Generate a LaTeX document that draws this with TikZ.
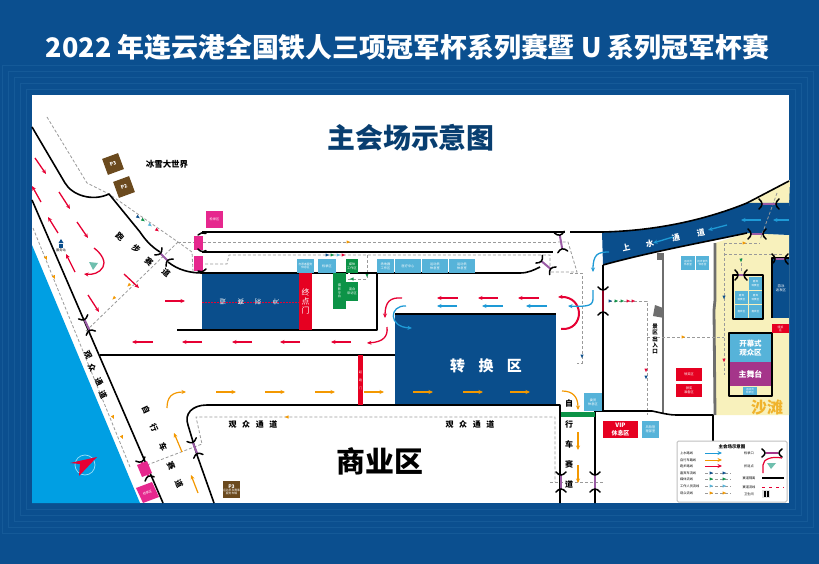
\documentclass[tikz,border=0pt]{standalone}
\usepackage{fontspec}
\setmainfont{Noto Sans CJK SC}
\usetikzlibrary{arrows.meta}
\definecolor{bgblue}{HTML}{0B4F8F}
\definecolor{bgline}{HTML}{155A98}
\definecolor{boxblue}{HTML}{0A4E8C}
\definecolor{water}{HTML}{009FE3}
\definecolor{cyanbox}{HTML}{56B3D9}
\definecolor{greenbox}{HTML}{0C9347}
\definecolor{redbox}{HTML}{E60021}
\definecolor{pinkbox}{HTML}{E6288E}
\definecolor{brownbox}{HTML}{6B4A1E}
\definecolor{sand}{HTML}{F8F1BC}
\definecolor{stage}{HTML}{A5358A}
\definecolor{gatepurple}{HTML}{9A5BA5}
\definecolor{flowred}{HTML}{E60033}
\definecolor{flowblue}{HTML}{1E9AD6}
\definecolor{flowor}{HTML}{F39800}
\definecolor{dashgrey}{HTML}{9A9A9A}
\definecolor{wallgrey}{HTML}{6E6E6E}
\definecolor{teal}{HTML}{6FBFAE}
\definecolor{sandtext}{HTML}{F0B32C}
\tikzset{
  road/.style={draw=black,line width=1.6bp,line join=round},
  redarrow/.style={draw=flowred,line width=1.3bp,-{Stealth[length=4.5bp,width=4bp]}},
  bluearrow/.style={draw=flowblue,line width=1.3bp,-{Stealth[length=4.5bp,width=4bp]}},
  orarrow/.style={draw=flowor,line width=1.2bp,-{Stealth[length=4.5bp,width=4bp]}},
  dashline/.style={draw=dashgrey,line width=.8bp,dash pattern=on 3bp off 2bp},
  gatearc/.style={draw=black,line width=1.5bp,line cap=round},
  cell/.style={inner sep=0pt,outer sep=0pt,align=center,text=white,font=\fontsize{3.2}{3.8}\selectfont},
  cyancell/.style={cell,fill=cyanbox},
  greencell/.style={cell,fill=greenbox},
  redcell/.style={cell,fill=redbox},
  pinkcell/.style={cell,fill=pinkbox},
  lbl/.style={inner sep=0pt,text=black,font=\fontsize{8}{9}\selectfont\bfseries},
  leglbl/.style={inner sep=0pt,text=black,font=\fontsize{3.2}{3.8}\selectfont},
}
\newcommand\boxat[7]{\node[#6,minimum width={(#4-#2)*1bp},minimum height={(#5-#3)*1bp}] (#1) at ({(#2+#4)/2},{(#3+#5)/2}) {#7};}
\newcommand\gatemark[5]{\begin{scope}[shift={(#1,#2)},rotate=#3]
  \draw[draw=#5,line width=2bp] (-#4,0)--(#4,0);
  \draw[gatearc] (-#4-3,-5) .. controls (-#4+1,-1.5) and (-#4+1,1.5) .. (-#4-3,5);
  \draw[gatearc] (#4+3,-5) .. controls (#4-1,-1.5) and (#4-1,1.5) .. (#4+3,5);
\end{scope}}
\newcommand\flowtick[4]{\fill[#4,shift={(#1,#2)},rotate=#3] (2.2,0)--(-1.5,-1.6)--(-1.5,1.6)--cycle;}
\begin{document}
\begin{tikzpicture}[x=1bp,y=-1bp]
\useasboundingbox (0,0) rectangle (819,564);
\fill[bgblue] (0,0) rectangle (819,564);
\foreach \i in {1,...,5}{
  \draw[bgline,line width=.5bp] ({32-6*\i},{95-6*\i}) rectangle ({789+6*\i},{503+6*\i});
}
\fill[white] (32,95) rectangle (789,503);

% water
\fill[water] (32,245)--(140,503)--(32,503)--cycle;

% sand
\fill[sand] (747,203)--(790,180)--(789,206)--cycle;
\fill[sand] (715,243)--(747,233)--(789,235)--(789,415)--(715,415)--cycle;

% upper water road
\fill[boxblue] (602,232) .. controls (650,231) and (700,222) .. (747,203)
  -- (789,203)--(789,235)--(747,233) .. controls (700,243) and (650,252) .. (603,265)--cycle;

% big blue zones
\fill[boxblue] (202,273) rectangle (299,330);
\fill[boxblue] (395,314) rectangle (556,405);
\fill[boxblue] (772,258) rectangle (789,318);

% grey walls
\draw[wallgrey,line width=2.8bp] (663,253)--(663,413);
\draw[wallgrey,line width=2.8bp] (715,243)--(715,300)--(714,310)--(715,415);
\fill[wallgrey] (657,253) rectangle (663,260);
\fill[wallgrey] (655,305)--(663,308)--(664,318)--(653,316)--cycle;

% dashed flow lines
\draw[dashline] (47,117)--(87,183)--(109,194)--(178,242)--(192,252)--(193,272);
\draw[dashline] (178,242)--(558,242);
\draw[dashline] (178,242)--(85,332);
\draw[dashline] (205,264)--(227,264)--(229,255)--(550,255)--(550,272)--(577,272)--(568,242)--(558,242);
\draw[dashline] (367,255)--(367,279)--(347,279);
\draw[dashline] (33,228)--(130,467);
\draw[dashline] (147,465)--(202,444)--(196,417)--(555,417)--(555,482);
\draw[dashline] (550,482)--(605,482);
\draw[dashline] (570,273)--(582,273)--(582,363)--(577,363);
\draw[dashline] (609,301)--(647,301)--(647,415);
\draw[dashline] (647,337)--(724,337);
\draw[dashline] (724,243)--(724,375);
\draw[dashline] (724,243)--(760,243);
\draw[dashline] (724,254)--(782,254);
\draw[dashline] (777,193)--(760,240);
\draw[dashline] (741,258)--(741,273);

% flow ticks
\flowtick{138}{217}{-35}{boxblue}\flowtick{143}{220}{-35}{greenbox}\flowtick{150}{225}{-35}{cyanbox}\flowtick{157}{230}{-35}{flowred}
\flowtick{327}{255}{0}{boxblue}\flowtick{332}{255}{0}{greenbox}\flowtick{338}{255}{0}{cyanbox}\flowtick{343}{255}{0}{flowred}
\flowtick{610}{301}{0}{boxblue}\flowtick{616}{301}{0}{greenbox}\flowtick{622}{301}{0}{greenbox}\flowtick{628}{301}{0}{flowred}\flowtick{633}{301}{0}{flowred}
\flowtick{348}{242}{0}{flowor}\flowtick{744}{243}{0}{flowor}\flowtick{683}{337}{0}{flowor}\flowtick{287}{417}{180}{flowor}
\flowtick{113}{417}{-65}{flowor}\flowtick{122}{437}{-65}{flowor}\flowtick{46}{258}{-65}{flowor}\flowtick{54}{277}{-65}{flowor}
\flowtick{129}{285}{225}{flowor}\flowtick{114}{298}{225}{flowor}
\flowtick{724}{360}{-90}{flowred}\flowtick{724}{297}{-90}{boxblue}\flowtick{646}{370}{-90}{flowred}\flowtick{646}{377}{-90}{boxblue}
\flowtick{741}{260}{-90}{greenbox}\flowtick{367}{275}{-90}{greenbox}\flowtick{352}{279}{180}{greenbox}\flowtick{582}{356}{-90}{boxblue}

% black road edges
\draw[road] (32,127)--(65,183) .. controls (72,195) and (92,202) .. (109,194)
  --(140,232) .. controls (146,241) and (152,247) .. (160,252);
\draw[road] (168,262) .. controls (178,270) and (190,273) .. (202,273)--(348,273);
\draw[road] (32,200)--(163,503);
\draw[road] (202,232)--(565,232);
\draw[road] (202,252)--(553,252);
\draw[road] (350,273)--(377,273);
\draw[road,line width=1.6bp] (177,330)--(377,330)--(377,273)--(520,273) .. controls (528,273) and (534,270) .. (540,267);
\draw[road] (100,355)--(395,355);
\draw[road] (395,314)--(556,314);
\draw[road] (560,503)--(560,405)--(207,405) .. controls (192,405) and (184,414) .. (188,425)--(197,455)--(214,503);
\draw[road] (595,503)--(595,411)--(652,411) .. controls (662,413) and (668,415) .. (677,415)--(713,415)--(713,441);
\draw[road] (603,265)--(603,411);
\draw[road] (570,232)--(602,232) .. controls (650,231) and (700,222) .. (747,203)--(789,181);
\draw[road] (603,265) .. controls (650,252) and (700,243) .. (747,233);
\draw[road] (772,318)--(772,258)--(789,258);
\draw[road] (733,275) rectangle (763,319);
\draw[road] (729,333) rectangle (772,396);

% pink markers
\boxat{pinktop}{206}{211}{223}{228}{pinkcell}{检录区}
\boxat{pinka}{194}{236}{203}{250}{pinkcell}{}
\boxat{pinkb}{194}{256}{203}{271}{pinkcell}{}
\fill[pinkbox] (136,488)--(152,482)--(159,497)--(143,503)--cycle;
\node[inner sep=0pt,text=white,rotate=22,font=\fontsize{3.2}{3.8}\selectfont] (pinkc) at (147.5,492.5) {检录区};
\fill[pinkbox] (137,465)--(147,461)--(152,473)--(142,477)--cycle;

% gates
\gatemark{164}{257}{-45}{5}{gatepurple}
\gatemark{87}{325}{-65}{6}{gatepurple}
\gatemark{195}{448}{-68}{6}{gatepurple}
\gatemark{145}{469}{-65}{8}{pinkbox}
\draw[gatearc] (198,235) .. controls (200,232.5) and (203,232.5) .. (206,233.5);
\draw[gatearc] (198,249) .. controls (200,252) and (204,252) .. (206,250.5);
\draw[gatearc] (198,271) .. controls (200,272.5) and (203,272) .. (206,269);
\gatemark{561}{242}{-80}{7}{gatepurple}
\gatemark{546}{265}{-40}{6}{gatepurple}
\gatemark{603}{301}{-90}{11}{flowred!60!black}
\gatemark{757}{234}{0}{6}{gatepurple}
\gatemark{769}{204}{0}{7}{gatepurple}
\gatemark{780}{259}{0}{5}{gatepurple}
\gatemark{741}{275}{0}{3}{gatepurple}
\gatemark{561}{482}{-90}{7}{gatepurple}
\gatemark{595}{482}{-90}{7}{gatepurple}

% finish gate and strip
\boxat{finish}{299}{273}{312}{330}{redcell,font=\fontsize{8}{9.5}\selectfont}{终\\点\\门}
\boxat{startgate}{358}{355}{363}{405}{redcell,font=\fontsize{3}{8}\selectfont}{起\\跑\\门}
\boxat{greenstrip}{561}{412}{595}{417}{greencell}{}
\draw[flowred,line width=.6bp,dash pattern=on 2bp off 1bp] (202,302)--(299,302);
\node[inner sep=0pt,text=white,rotate=180,font=\fontsize{6.5}{7}\selectfont] (fa) at (276,302) {冲};
\node[inner sep=0pt,text=white,rotate=180,font=\fontsize{6.5}{7}\selectfont] (fb) at (258,302) {刺};
\node[inner sep=0pt,text=white,rotate=180,font=\fontsize{6.5}{7}\selectfont] (fc) at (241,302) {赛};
\node[inner sep=0pt,text=white,rotate=180,font=\fontsize{6.5}{7}\selectfont] (fd) at (223,302) {道};

% service boxes
\boxat{ca}{297}{259}{314}{273}{cyancell,font=\fontsize{2.8}{3.3}\selectfont}{志愿者服务\\休息区}
\boxat{cb}{318}{259}{336}{273}{cyancell}{检录区}
\boxat{ga}{346}{259}{358}{273}{greencell}{媒体\\工作区}
\boxat{gb}{333}{273}{346}{309}{greencell}{摄\\影\\平\\台}
\boxat{gc}{346}{282}{358}{301}{greencell}{混合\\采访区}
\boxat{cc}{377}{259}{394}{273}{cyancell}{场地器\\工作区}
\boxat{cd}{395}{259}{421}{273}{cyancell}{医疗中心}
\boxat{ce}{422}{259}{448}{273}{cyancell}{运动员\\休息室}
\boxat{cf}{449}{259}{475}{273}{cyancell}{运动员\\休息室}
\boxat{cg}{681}{256}{695}{270}{cyancell,font=\fontsize{2.6}{3.2}\selectfont}{运动员\\休息室}
\boxat{ch}{696}{256}{709}{270}{cyancell,font=\fontsize{2.6}{3.2}\selectfont}{技术官员\\休息室}
\boxat{sa}{749}{277}{762}{290}{cyancell,font=\fontsize{2.6}{3.2}\selectfont}{嘉宾\\观赛区}
\boxat{sb}{735}{291}{748}{304}{cyancell,font=\fontsize{2.6}{3.2}\selectfont}{嘉宾\\观赛区}
\boxat{sc}{749}{291}{762}{304}{cyancell,font=\fontsize{2.6}{3.2}\selectfont}{嘉宾\\观赛区}
\boxat{sd}{735}{305}{748}{318}{cyancell,font=\fontsize{2.6}{3.2}\selectfont}{嘉宾区}
\boxat{se}{749}{305}{762}{318}{cyancell,font=\fontsize{2.6}{3.2}\selectfont}{嘉宾区}
\boxat{open}{730}{334}{771}{362}{cyancell,font=\fontsize{7.5}{9.5}\selectfont\bfseries}{开幕式\\观众区}
\boxat{main}{730}{362}{771}{386}{cell,fill=stage,font=\fontsize{8}{9}\selectfont\bfseries}{主舞台}
\boxat{smallc}{743}{387}{757}{395}{cyancell,font=\fontsize{2.6}{3}\selectfont}{运动员\\检录区}
\boxat{ra}{676}{368}{702}{381}{redcell}{领奖区}
\boxat{rb}{676}{384}{702}{397}{redcell}{颁奖\\准备区}
\boxat{rc}{772}{324}{789}{333}{redcell,font=\fontsize{2.8}{3.2}\selectfont}{颁奖\\区}
\boxat{vip}{603}{421}{638}{438}{redcell,font=\fontsize{6}{7.5}\selectfont\bfseries}{VIP\\休息区}
\boxat{ci}{642}{421}{659}{438}{cyancell}{风险管\\理部室}
\boxat{cj}{584}{393}{602}{411}{cyancell}{委员\\休息区}
\node[inner sep=0pt,text=white,font=\fontsize{3.4}{4}\selectfont,align=center] (swim) at (781,288) {游泳\\返发区};

% parking
\node[fill=brownbox,rotate=20,minimum size=17bp,inner sep=0pt,text=white,font=\fontsize{5}{5}\selectfont\bfseries] (pa) at (113,164) {P3};
\node[fill=brownbox,rotate=20,minimum size=17bp,inner sep=0pt,text=white,font=\fontsize{5}{5}\selectfont\bfseries] (pb) at (124,187) {P2};
\boxat{pc}{223}{481}{240}{498}{cell,fill=brownbox,font=\fontsize{2.8}{3.2}\selectfont}{{\fontsize{5}{5}\selectfont\bfseries P3}\\运动员及赛事\\服务车辆}

% person marker
\fill[boxblue] (61,239)--(63.5,243)--(58.5,243)--cycle;
\fill[boxblue] (59,244) rectangle (63,248);
\node[leglbl] (water1) at (61,250) {服务站};

% big labels
\node[inner sep=0pt,text=white,font=\fontsize{27}{29}\selectfont\bfseries] (title) at (407.5,47) {2022 年连云港全国铁人三项冠军杯系列赛暨 U 系列冠军杯赛};
\node[inner sep=0pt,text=boxblue!80!black,font=\fontsize{28}{30}\selectfont\bfseries] (sub) at (411,138) {主会场示意图};
\node[inner sep=0pt,text=black,font=\fontsize{29}{31}\selectfont\bfseries] (biz) at (380,461) {商业区};
\node[inner sep=0pt,text=white,font=\fontsize{15}{16}\selectfont\bfseries] (zhuan) at (486,366) {转\hspace{.9em}换\hspace{.9em}区};
\node[inner sep=0pt,text=sandtext,font=\fontsize{16}{17}\selectfont\bfseries] (beach) at (767,407) {沙滩};
\node[lbl,font=\fontsize{8.5}{9}\selectfont\bfseries] (snow) at (167,164) {冰雪大世界};
\node[lbl] (ga1) at (253,424) {观\hspace{.7em}众\hspace{.7em}通\hspace{.7em}道};
\node[lbl] (ga2) at (470,424) {观\hspace{.7em}众\hspace{.7em}通\hspace{.7em}道};
\node[lbl,align=center,font=\fontsize{5.5}{6.1}\selectfont\bfseries] (scenic) at (655,339) {景\\区\\出\\入\\口};

% running lane text
\node[lbl,rotate=-40] (r1) at (120,237) {跑};
\node[lbl,rotate=-40] (r2) at (136,249) {步};
\node[lbl,rotate=-40] (r3) at (149,262) {赛};
\node[lbl,rotate=-40] (r4) at (166,273) {道};
% spectator lane text
\node[lbl,rotate=-65] (s1) at (88,355) {观};
\node[lbl,rotate=-65] (s2) at (92,368) {众};
\node[lbl,rotate=-65] (s3) at (99,382) {通};
\node[lbl,rotate=-65] (s4) at (103,395) {道};
% cycling lane text
\node[lbl,rotate=-65] (c1) at (146,410) {自};
\node[lbl,rotate=-65] (c2) at (154,428) {行};
\node[lbl,rotate=-65] (c3) at (163,447) {车};
\node[lbl,rotate=-65] (c4) at (171,466) {赛};
\node[lbl,rotate=-65] (c5) at (179,484) {道};
\node[lbl] (d1) at (569,403) {自};
\node[lbl] (d2) at (569,424) {行};
\node[lbl] (d3) at (569,444) {车};
\node[lbl] (d4) at (569,464) {赛};
\node[lbl] (d5) at (569,484) {道};
% water lane text
\node[lbl,text=white,rotate=12] (u1) at (626,248) {上};
\node[lbl,text=white,rotate=12] (u2) at (650,244) {水};
\node[lbl,text=white,rotate=12] (u3) at (676,238) {通};
\node[lbl,text=white,rotate=12] (u4) at (701,233) {道};

% red arrows
\draw[redarrow] (35,158)--(46,174);
\draw[redarrow] (59,192)--(70,209);
\draw[redarrow] (77,222)--(88,238);
\draw[redarrow] (124,274)--(139,288);
\draw[redarrow] (88,295)--(99,312);
\draw[redarrow] (41,202)--(32,186);
\draw[redarrow] (58,233)--(48,217);
\draw[redarrow] (75,272)--(66,254);
\draw[redarrow] (94,248) .. controls (102,254) and (106,262) .. (103,267) .. controls (100,273) and (92,275) .. (84,274);
\fill[teal] (89,262)--(98,263)--(93,270)--cycle;
\draw[redarrow] (165,301)--(185,301);
\draw[redarrow] (153,342)--(132,342);
\draw[redarrow] (202,342)--(182,342);
\draw[redarrow] (252,342)--(232,342);
\draw[redarrow] (300,342)--(280,342);
\draw[redarrow] (351,342)--(331,342);
\draw[redarrow] (387,327) .. controls (388,336) and (384,342) .. (367,343);
\draw[redarrow] (402,298) .. controls (390,297) and (385,302) .. (385,318);
\draw[redarrow] (458,298)--(437,298);
\draw[redarrow] (498,298)--(478,298);
\draw[redarrow] (539,298)--(518,298);
\draw[redarrow,line width=2bp] (561,329) .. controls (585,331) and (585,296) .. (558,297);

% blue arrows
\draw[bluearrow] (457,306)--(437,306);
\draw[bluearrow] (503,306)--(482,306);
\draw[bluearrow] (547,306)--(526,306);
\draw[bluearrow] (406,306) .. controls (389,305) and (388,327) .. (412,328);
\draw[bluearrow] (593,290)--(593,298) .. controls (593,305) and (590,307) .. (568,306);
\draw[bluearrow] (609,252) .. controls (598,252) and (593,254) .. (593,272);
\draw[bluearrow] (673,237)--(653,243);
\draw[bluearrow] (727,225)--(708,230);
\draw[bluearrow] (761,220)--(741,220);
\draw[bluearrow] (789,220)--(773,220);

% orange arrows
\draw[orarrow] (167,408) .. controls (167,397) and (172,392) .. (186,392);
\draw[orarrow] (216,392)--(236,392);
\draw[orarrow] (265,392)--(285,392);
\draw[orarrow] (315,392)--(335,392);
\draw[orarrow] (364,392)--(384,392);
\draw[orarrow] (413,392)--(433,392);
\draw[orarrow] (463,392)--(483,392);
\draw[orarrow] (510,392)--(530,392);
\draw[orarrow] (182,452)--(174,433);
\draw[orarrow] (198,493)--(191,475);
\draw[orarrow] (562,391) .. controls (573,391) and (578,397) .. (578,410);
\draw[orarrow] (578,432)--(578,450);
\draw[orarrow] (578,465)--(578,483);

% compass
\draw[cyan!40,line width=.7bp] (85,465) circle (10);
\fill[flowred] (97,457)--(70,463)--(80,464)--(79,476)--cycle;

% legend
\draw[fill=white,draw=black!25,line width=1bp,rounded corners=1.5bp] (677,441) rectangle (787,502);
\node[inner sep=0pt,text=black,font=\fontsize{4.5}{5}\selectfont\bfseries] (legt) at (732,447) {主会场示意图};
\node[leglbl,anchor=west] (l1) at (680,453) {上水路线};
\node[leglbl,anchor=west] (l2) at (680,460) {自行车路线};
\node[leglbl,anchor=west] (l3) at (680,466) {跑步路线};
\node[leglbl,anchor=west] (l4) at (680,473) {嘉宾车流线};
\node[leglbl,anchor=west] (l5) at (680,479) {媒体流线};
\node[leglbl,anchor=west] (l6) at (680,486) {工作人员流线};
\node[leglbl,anchor=west] (l7) at (680,493) {观众流线};
\node[leglbl] (r1l) at (749,453) {检录口};
\node[leglbl] (r2l) at (749,466) {折返点};
\node[leglbl] (r3l) at (749,478) {赛道隔离};
\node[leglbl] (r4l) at (749,487) {赛道流线};
\node[leglbl] (r5l) at (749,494) {卫生间};
\draw[bluearrow,line width=1bp] (705,453)--(722,453);
\draw[orarrow,line width=1bp] (705,460)--(722,460);
\draw[redarrow,line width=1bp] (705,466)--(722,466);
\foreach \yy/\cc in {473/boxblue,479/greenbox,486/cyanbox,493/flowor}{
  \draw[dashline,line width=.5bp] (705,\yy)--(731,\yy);
  \flowtick{711}{\yy}{0}{\cc}\flowtick{724}{\yy}{0}{\cc}
}
\begin{scope}[shift={(772,453)}]
  \draw[stage,line width=1.4bp] (-6,0)--(6,0);
  \draw[gatearc] (-10,-4) .. controls (-6,-1) and (-6,1) .. (-10,4);
  \draw[gatearc] (10,-4) .. controls (6,-1) and (6,1) .. (10,4);
\end{scope}
\draw[draw=flowred,line width=1.2bp] (763,473) -- (763,465) .. controls (763,459) and (772,456) .. (782,458);
\fill[teal] (767,463)--(776,463)--(771,469)--cycle;
\draw[black,line width=1.4bp] (762,478)--(784,478);
\draw[flowred,line width=.7bp,dash pattern=on 3bp off 4bp] (762,487)--(784,487);
\fill[black!12] (762,490) rectangle (770,498);
\fill[black] (764,491) rectangle (765.5,497);
\fill[black] (767,491) rectangle (768.5,497);
\end{tikzpicture}
\end{document}
